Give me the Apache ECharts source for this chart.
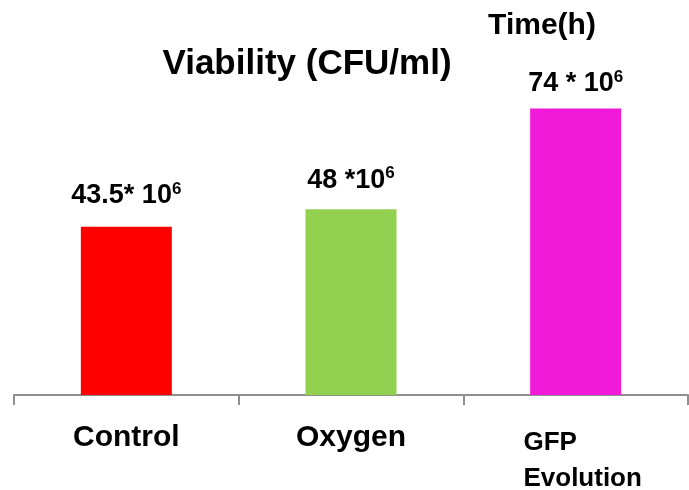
<!DOCTYPE html>
<html>
<head>
<meta charset="utf-8">
<script src="https://cdn.jsdelivr.net/npm/echarts@6/dist/echarts.min.js"></script>
<style>html,body{margin:0;padding:0;background:#fff;}#c{width:689px;height:490px;}</style>
</head>
<body>
<div id="c"></div>
<script>
var categories = ['Control', 'Oxygen', 'GFP\nEvolution'];
var values = [43.5, 48, 74];
var valueTexts = ['43.5* 10', '48 *10', '74 * 10'];
var exponent = '6';
var barColors = ['#ff0000', '#92d050', '#f21ad9'];
var titleText = 'Viability (CFU/ml)';
var subText = 'Time(h)';

var chart = echarts.init(document.getElementById('c'), null, {renderer: 'canvas'});
var labelGap = [16, 14, 10];
var data = values.map(function (v, i) {
  return {
    value: v,
    itemStyle: {color: barColors[i]},
    label: {distance: labelGap[i]}
  };
});
chart.setOption({
  animation: false,
  backgroundColor: '#ffffff',
  title: [
    {text: titleText, left: 302, top: 42, textAlign: 'center',
     textStyle: {fontFamily: 'Liberation Sans', fontWeight: 'bold', fontSize: 35, color: '#000'}},
    {text: subText, left: 537, top: 6, textAlign: 'center',
     textStyle: {fontFamily: 'Liberation Sans', fontWeight: 'bold', fontSize: 30, color: '#000'}}
  ],
  grid: {left: 14, right: 1, top: 8, bottom: 95, containLabel: false, outerBoundsMode: 'none'},
  xAxis: {
    type: 'category',
    data: categories,
    axisLine: {lineStyle: {color: '#8f8f8f', width: 2}},
    axisTick: {show: true, length: 10, lineStyle: {color: '#8f8f8f', width: 2}},
    axisLabel: {
      margin: 28,
      interval: 0,
      formatter: function (v) {
        if (v.indexOf('\n') >= 0) {
          var parts = v.split('\n');
          return '{g1|' + parts[0] + '}\n{g|' + parts[1] + '}';
        }
        return '{c|' + v + '}';
      },
      rich: {
        c: {fontFamily: 'Liberation Sans', fontWeight: 'bold', fontSize: 30, color: '#000', lineHeight: 30},
        g1: {fontFamily: 'Liberation Sans', fontWeight: 'bold', fontSize: 26, color: '#000', lineHeight: 40, align: 'left', padding: [0, 0, 0, 14]},
        g: {fontFamily: 'Liberation Sans', fontWeight: 'bold', fontSize: 26, color: '#000', lineHeight: 32, align: 'left', padding: [0, 0, 0, 14]}
      }
    }
  },
  yAxis: {
    type: 'value', min: 0, max: 100, show: false,
    splitLine: {show: false}
  },
  series: [{
    type: 'bar',
    data: data,
    barWidth: 91,
    label: {
      show: true,
      position: 'top',
      formatter: function (p) {
        return '{m|' + valueTexts[p.dataIndex] + '}{s|' + exponent + '}';
      },
      rich: {
        m: {fontFamily: 'Liberation Sans', fontWeight: 'bold', fontSize: 27, color: '#000', lineHeight: 30},
        s: {fontFamily: 'Liberation Sans', fontWeight: 'bold', fontSize: 17, color: '#000', verticalAlign: 'top', lineHeight: 30, padding: [0, 0, 12, 0]}
      }
    }
  }]
});
</script>
</body>
</html>
